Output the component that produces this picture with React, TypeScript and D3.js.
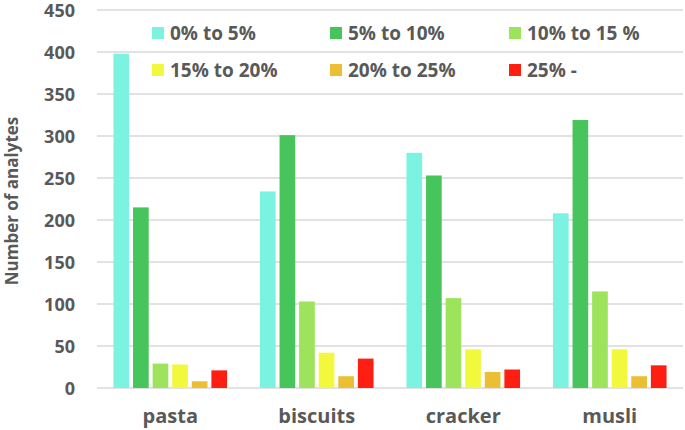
import React from "react";
import * as d3 from "d3";

const categories = ["pasta", "biscuits", "cracker", "musli"];
const seriesNames = ["0% to 5%", "5% to 10%", "10% to 15 %", "15% to 20%", "20% to 25%", "25% -"];
const seriesColors = ["#7BF3E0", "#47C45B", "#9DE35B", "#F2F83C", "#EBBF31", "#FF1F12"];
const s0 = [398, 234, 280, 208];
const s1 = [215, 301, 253, 319];
const s2 = [29, 103, 107, 115];
const s3 = [28, 42, 46, 46];
const s4 = [8, 14, 19, 14];
const s5 = [21, 35, 22, 27];
const seriesValues = [s0, s1, s2, s3, s4, s5];
const yTicks = [0, 50, 100, 150, 200, 250, 300, 350, 400, 450];

const W = 685, H = 430;
const left = 97, right = 683, top = 10, bottom = 388;
const font = "'Open Sans', sans-serif";
const textColor = "#595959";

export default function App() {
  const y = d3.scaleLinear().domain([0, 450]).range([bottom, top]);
  const x0 = d3.scaleBand().domain(categories).range([left, right]).padding(0);
  const x1 = d3.scaleBand<number>()
    .domain(d3.range(seriesNames.length))
    .range([0, x0.bandwidth()])
    .paddingInner(0.2)
    .paddingOuter(0.84);

  const legendCols = [152, 330, 509];
  const legendRows = [33, 70];

  return (
    <svg width={W} height={H} style={{ position: "absolute", left: 0, top: 0, background: "#fff" }}
      fontFamily={font}>
      {yTicks.map((t) => (
        <g key={t}>
          <line x1={left} x2={right} y1={y(t)} y2={y(t)} stroke="#D9D9D9" strokeWidth={1.3} />
          <text x={75} y={y(t) + 1} dy="0.34em" textAnchor="end" fontSize={18} fontWeight="bold" fill={textColor}>{t}</text>
        </g>
      ))}
      {categories.map((c, ci) => (
        <g key={c} transform={`translate(${x0(c)},0)`}>
          {seriesValues.map((vals, si) => (
            <rect key={si} x={x1(si)} y={y(vals[ci])} width={x1.bandwidth()} height={y(0) - y(vals[ci])}
              fill={seriesColors[si]} />
          ))}
          <text x={x0.bandwidth() / 2} y={423} textAnchor="middle" fontSize={20} fontWeight="bold" fill={textColor}>{c}</text>
        </g>
      ))}
      <text transform={`translate(18,${(top + bottom) / 2 + 2}) rotate(-90)`} textAnchor="middle" fontSize={17}
        fontWeight="bold" fill={textColor}>Number of analytes</text>
      {seriesNames.map((n, i) => {
        const cx = legendCols[i % 3];
        const cy = legendRows[Math.floor(i / 3)];
        return (
          <g key={n}>
            <rect x={cx} y={cy - 6} width={12} height={12} fill={seriesColors[i]} />
            <text x={cx + 18} y={cy} dy="0.36em" fontSize={19} fontWeight="bold" fill={textColor}>{n}</text>
          </g>
        );
      })}
    </svg>
  );
}
